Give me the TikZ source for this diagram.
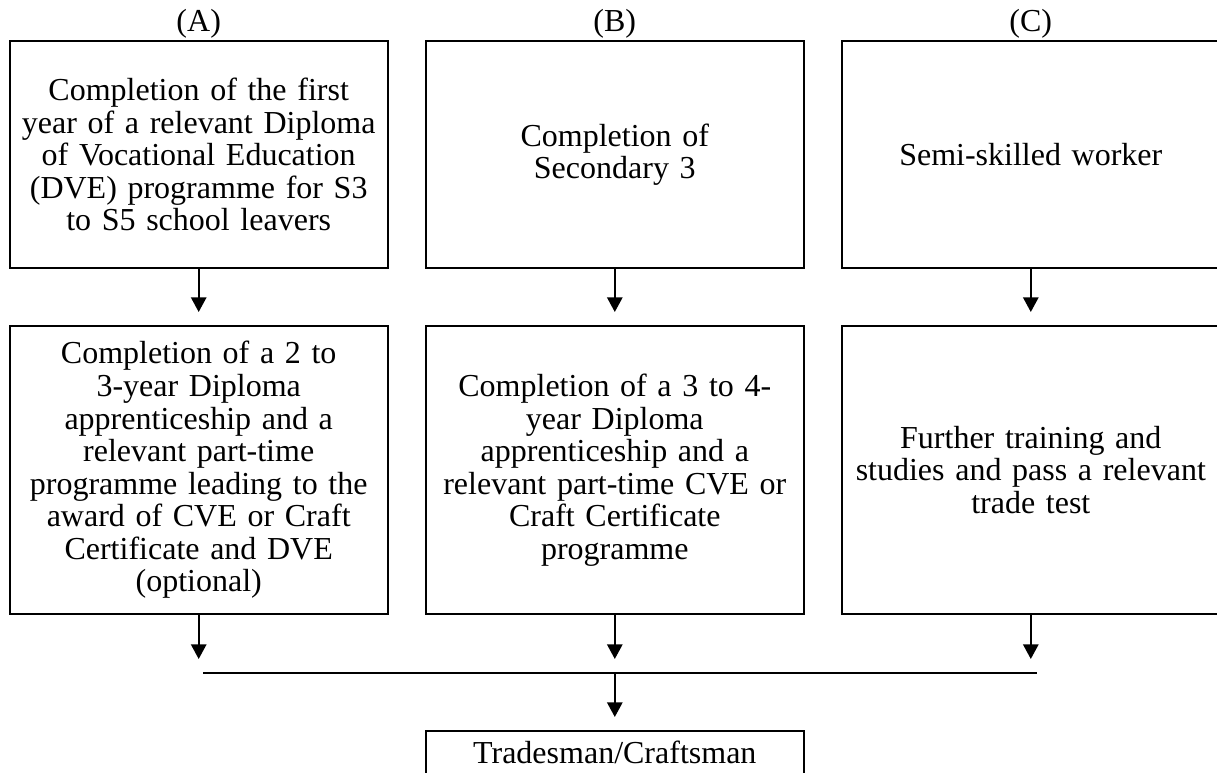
\documentclass[tikz,border=0pt]{standalone}
\usepackage{fontspec}
\setmainfont{Liberation Serif}
\usetikzlibrary{arrows.meta}

\begin{document}
\begin{tikzpicture}[x=0.75pt,y=-0.75pt,>={Triangle[length=11pt,width=11.5pt]},line width=1.5pt,
  every node/.style={font=\fontsize{24}{24.4}\selectfont},
  box/.style={draw,inner xsep=4pt,inner ysep=0pt,text width=270pt,align=center,minimum width=283.5pt},
  toprow/.style={box,minimum height=170.25pt},
  midrow/.style={box,minimum height=216pt}]
  \useasboundingbox (0,0) rectangle (1217,773);
  \node[toprow] (a1) at (198.7,154.5) {Completion of the first\\ year of a relevant Diploma\\ of Vocational Education\\ (DVE) programme for S3\\ to S5 school leavers};
  \node[toprow] (b1) at (614.8,154.5) {Completion of\\ Secondary 3};
  \node[toprow] (c1) at (1030.8,154.5) {Semi-skilled worker};
  \node[anchor=base] (labA) at ([yshift=6pt]a1.north) {(A)};
  \node[anchor=base] (labB) at ([yshift=6pt]b1.north) {(B)};
  \node[anchor=base] (labC) at ([yshift=6pt]c1.north) {(C)};
  \node[midrow] (a2) at (198.7,470) {Completion of a 2 to\\ 3-year Diploma\\ apprenticeship and a\\ relevant part-time\\ programme leading to the\\ award of CVE or Craft\\ Certificate and DVE\\ (optional)};
  \node[midrow] (b2) at (614.8,470) {Completion of a 3 to 4-\\ year Diploma\\ apprenticeship and a\\ relevant part-time CVE or\\ Craft Certificate\\ programme};
  \node[midrow] (c2) at (1030.8,470) {Further training and\\ studies and pass a relevant\\ trade test};
  \node[box,anchor=north,text height=16pt,text depth=6pt,inner ysep=8pt] (trade) at (614.8,730) {Tradesman/Craftsman};
  \coordinate (busL) at (203,673);
  \coordinate (busR) at (1037,673);
  \foreach \col in {a,b,c} {
    \draw[->,shorten >=9.75pt] (\col1) -- (\col2);
    \draw[->,shorten >=10.5pt] (\col2.south) -- (\col2.south |- busL);
  }
  \draw (busL) -- (busR);
  \draw[->,shorten >=9.75pt] (b2.south |- busL) -- (trade);
\end{tikzpicture}
\end{document}
